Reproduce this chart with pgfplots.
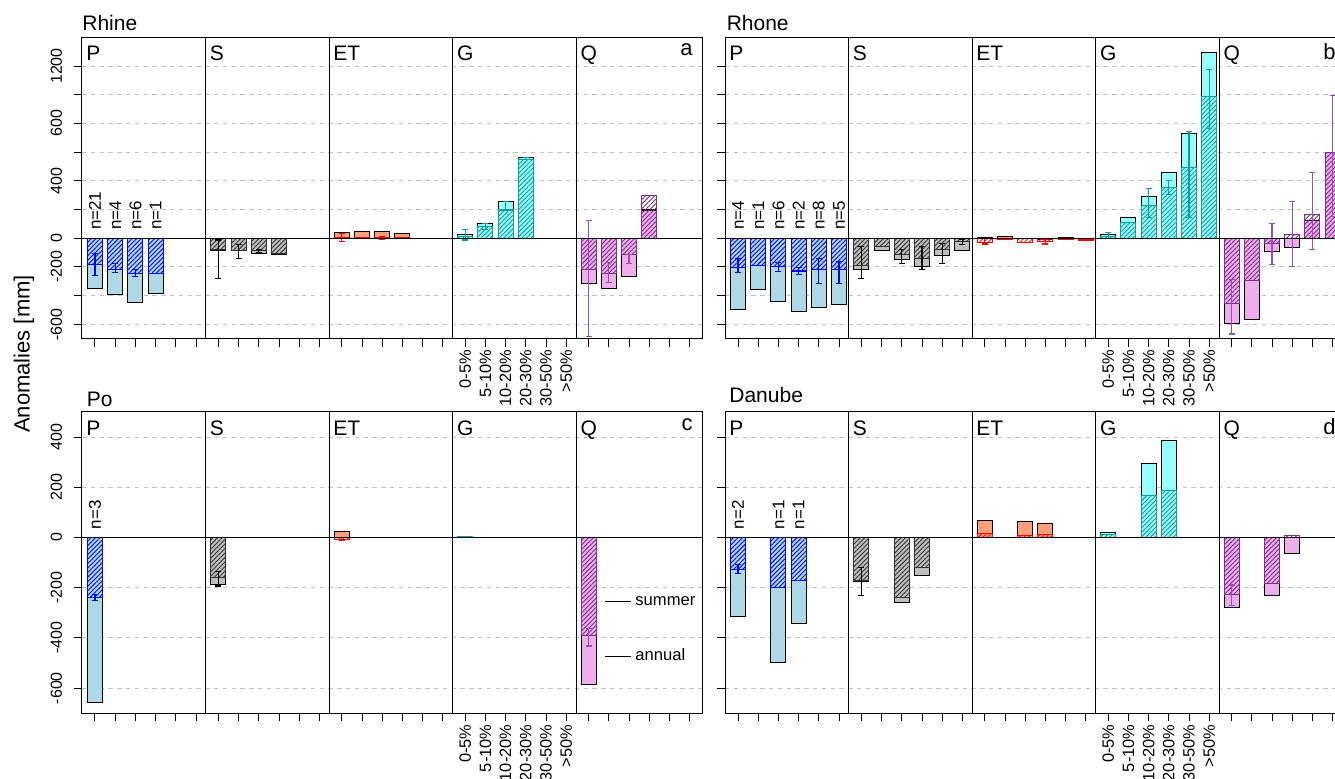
\documentclass[border=0pt]{standalone}
\usepackage{fontspec}
\setmainfont{Liberation Sans}
\usepackage{pgfplots}
\pgfplotsset{compat=1.18}
\usetikzlibrary{patterns.meta}

\definecolor{pfill}{HTML}{ADD8E6}
\definecolor{pline}{HTML}{0000FF}
\definecolor{sfill}{HTML}{BEBEBE}
\definecolor{sline}{HTML}{333333}
\definecolor{efill}{HTML}{FFA07A}
\definecolor{eline}{HTML}{FF0000}
\definecolor{gfill}{HTML}{97FFFF}
\definecolor{gline}{HTML}{119C9C}
\definecolor{qfill}{HTML}{EEAEEE}
\definecolor{qline}{HTML}{7D2F8F}
\definecolor{qerr}{HTML}{9650B4}

\pgfplotsset{
  panel/.style={
    scale only axis, width=310pt, height=150.7pt, anchor=south west,
    xmin=0, xmax=620, clip=false,
    axis line style={line width=0.5pt},
    tick align=outside, major tick length=4pt,
    tick style={black, line width=0.5pt},
    xtick pos=left, ytick pos=left,
    xtick={13,33.2,53.4,73.6,93.8,114,136.4,156.6,176.8,197,217.2,237.4,
           259.8,280,300.2,320.4,340.6,360.8,383.2,403.4,423.6,443.8,464,484.2,
           506.6,526.8,547,567.2,587.4,607.6},
    xticklabels={{},{},{},{},{},{},{},{},{},{},{},{},{},{},{},{},{},{},
                 0-5\%,5-10\%,10-20\%,20-30\%,30-50\%,>50\%,{},{},{},{},{},{}},
    xticklabel style={rotate=90, anchor=east, inner sep=1.5pt, font=\fontsize{8.2}{10}\selectfont},
    yticklabel style={rotate=90, anchor=south, font=\fontsize{8}{10}\selectfont},
    yticklabel shift=2.5pt,
    /pgf/number format/assume math mode=true,
    ymajorgrids, grid style={dash pattern=on 2.2pt off 2.2pt, black!25, line width=0.5pt},
  },
  ann/.style={ybar, bar width=15, bar shift=0pt, draw=black, line width=0.55pt, fill=#1, forget plot},
  sum/.style={ybar, bar width=15, bar shift=0pt, draw=#1, line width=0.55pt,
    pattern={Lines[angle=45, distance=1.6pt, line width=0.45pt]}, pattern color=#1, forget plot},
  eb/.style={forget plot, draw=none, mark=none, error bars/.cd, y dir=both, y explicit,
    error bar style={draw=#1, line width=0.55pt, solid},
    error mark options={rotate=90, draw=#1, mark size=1.5pt, line width=0.55pt}},
}

\newcommand{\seclab}[2]{\node[anchor=north west, inner sep=0pt, xshift=2pt, yshift=-4.2pt,
  font=\fontsize{10.5}{12}\selectfont] at ({axis cs:#1,0}|-{rel axis cs:0,1}) {#2};}
\newcommand{\panelframe}[1]{%
  \draw[line width=0.5pt] ({axis cs:123.4,0}|-{rel axis cs:0,0}) -- ({axis cs:123.4,0}|-{rel axis cs:0,1});
  \draw[line width=0.5pt] ({axis cs:247,0}|-{rel axis cs:0,0}) -- ({axis cs:247,0}|-{rel axis cs:0,1});
  \draw[line width=0.5pt] ({axis cs:370.6,0}|-{rel axis cs:0,0}) -- ({axis cs:370.6,0}|-{rel axis cs:0,1});
  \draw[line width=0.5pt] ({axis cs:494.2,0}|-{rel axis cs:0,0}) -- ({axis cs:494.2,0}|-{rel axis cs:0,1});
  \draw[line width=0.5pt] ({rel axis cs:0,0}|-{axis cs:0,0}) -- ({rel axis cs:1,0}|-{axis cs:0,0});
  \seclab{0}{P}\seclab{123.4}{S}\seclab{247}{ET}\seclab{370.6}{G}\seclab{494.2}{Q}
  \node[anchor=north east, inner sep=0pt, xshift=-4.5pt, yshift=-3pt,
    font=\fontsize{11}{13}\selectfont] at (rel axis cs:1,1) {#1};}
\newcommand{\nlab}[2]{\node[rotate=90, anchor=west, inner sep=0pt,
  font=\fontsize{8.5}{10}\selectfont] at ([yshift=4pt]axis cs:#1,0) {n=#2};}
\newcommand{\ptitle}[3]{\node[anchor=base west, inner sep=0pt, xshift=#2, yshift=#3,
  font=\fontsize{10.5}{12}\selectfont] at (rel axis cs:0,1) {#1};}

\begin{document}
\begin{tikzpicture}

% ---------------- Rhine ----------------
\begin{axis}[panel, at={(41pt,219.65pt)}, ymin=-700, ymax=1400,
  ytick={-600,-400,...,1200}, yticklabels={-600,{},-200,0,{},400,{},600,{},1200}]
\addplot[ann=pfill] coordinates {(13,-351) (33.2,-393) (53.4,-448) (73.6,-388)};
\addplot[sum=pline] coordinates {(13,-186) (33.2,-216) (53.4,-244) (73.6,-244)};
\addplot[eb=pline] coordinates {(13,-183.5) +- (0,74.5) (33.2,-206.5) +- (0,32.5) (53.4,-241.5) +- (0,25.5)};
\addplot[ann=sfill] coordinates {(136.4,-83) (156.6,-88) (176.8,-105) (197,-116)};
\addplot[sum=sline] coordinates {(136.4,-81) (156.6,-86) (176.8,-88) (197,-105)};
\addplot[eb=black] coordinates {(136.4,-145.5) +- (0,133.5) (156.6,-92.5) +- (0,46.5) (176.8,-90.5) +- (0,9.5)};
\addplot[ann=efill] coordinates {(259.8,42) (280,46) (300.2,46) (320.4,32)};
\addplot[sum=eline] coordinates {(259.8,8) (280,8) (300.2,8) (320.4,5)};
\addplot[eb=eline] coordinates {(259.8,6) +- (0,29) (300.2,3.5) +- (0,8.5)};
\addplot[ann=gfill] coordinates {(383.2,23) (403.4,105) (423.6,253) (443.8,560)};
\addplot[sum=gline] coordinates {(383.2,12) (403.4,81) (423.6,197) (443.8,546)};
\addplot[eb=gline] coordinates {(383.2,23) +- (0,35) (403.4,81) +- (0,19) (423.6,227.5) +- (0,30.5) (443.8,554) +- (0,6)};
\addplot[ann=qfill] coordinates {(506.6,-314) (526.8,-351) (547,-265) (567.2,197)};
\addplot[sum=qline] coordinates {(506.6,-216) (526.8,-244) (547,-111) (567.2,295)};
\addplot[eb=qerr] coordinates {(506.6,-280) +- (0,405) (526.8,-239.5) +- (0,69.5) (547,-145) +- (0,29)};
\panelframe{a}
\nlab{13}{21}\nlab{33.2}{4}\nlab{53.4}{6}\nlab{73.6}{1}
\ptitle{Rhine}{0pt}{3.3pt}
\end{axis}

% ---------------- Rhone ----------------
\begin{axis}[panel, at={(362.5pt,219.65pt)}, ymin=-700, ymax=1400,
  ytick={-600,-400,...,1200}, yticklabels={}]
\addplot[ann=pfill] coordinates {(13,-497) (33.2,-355) (53.4,-439) (73.6,-513) (93.8,-481) (114,-460)};
\addplot[sum=pline] coordinates {(13,-202) (33.2,-193) (53.4,-197) (73.6,-228) (93.8,-216) (114,-216)};
\addplot[eb=pline] coordinates {(13,-188) +- (0,49) (53.4,-198.5) +- (0,31.5) (73.6,-227.5) +- (0,23.5) (93.8,-230) +- (0,88) (114,-240.5) +- (0,77.5)};
\addplot[ann=sfill] coordinates {(136.4,-216) (156.6,-86) (176.8,-146) (197,-197) (217.2,-123) (237.4,-86)};
\addplot[sum=sline] coordinates {(136.4,-190) (156.6,-58) (176.8,-116) (197,-139) (217.2,-77) (237.4,-23)};
\addplot[eb=black] coordinates {(136.4,-168.5) +- (0,110.5) (176.8,-127.5) +- (0,46.5) (197,-137) +- (0,79) (217.2,-104.5) +- (0,69.5) (237.4,-26.5) +- (0,19.5)};
\addplot[ann=efill] coordinates {(259.8,7) (280,14) (300.2,-5) (320.4,-10) (340.6,7) (360.8,-3)};
\addplot[sum=eline] coordinates {(259.8,-30) (280,-10) (300.2,-28) (320.4,-23) (340.6,-9) (360.8,-12)};
\addplot[eb=eline] coordinates {(259.8,-20) +- (0,20) (320.4,-25) +- (0,15)};
\addplot[ann=gfill] coordinates {(383.2,28) (403.4,144) (423.6,288) (443.8,460) (464,732) (484.2,1296)};
\addplot[sum=gline] coordinates {(383.2,12) (403.4,111) (423.6,225) (443.8,355) (464,490) (484.2,990)};
\addplot[eb=gline] coordinates {(383.2,21) +- (0,21) (423.6,244) +- (0,100) (443.8,355.5) +- (0,48.5) (464,443.5) +- (0,299.5) (484.2,972.5) +- (0,205.5)};
\addplot[ann=qfill] coordinates {(506.6,-597) (526.8,-569) (547,-93) (567.2,-63) (587.4,123) (607.6,599)};
\addplot[sum=qline] coordinates {(506.6,-453) (526.8,-295) (547,-35) (567.2,28) (587.4,163) (607.6,599)};
\addplot[eb=qerr] coordinates {(506.6,-476.5) +- (0,190.5) (547,-40.5) +- (0,145.5) (567.2,27.5) +- (0,227.5) (587.4,190.5) +- (0,267.5) (607.6,572.5) +- (0,421.5)};
\panelframe{b}
\nlab{13}{4}\nlab{33.2}{1}\nlab{53.4}{6}\nlab{73.6}{2}\nlab{93.8}{8}\nlab{114}{5}
\ptitle{Rhone}{0.7pt}{3.3pt}
\end{axis}

% ---------------- Po ----------------
\begin{axis}[panel, at={(41pt,32.35pt)}, ymin=-700, ymax=500,
  ytick={-600,-400,...,400}, yticklabels={-600,-400,-200,0,200,400}]
\addplot[ann=pfill] coordinates {(13,-656)};
\addplot[sum=pline] coordinates {(13,-239)};
\addplot[eb=pline] coordinates {(13,-239.5) +- (0,11.5)};
\addplot[ann=sfill] coordinates {(136.4,-187)};
\addplot[sum=sline] coordinates {(136.4,-158)};
\addplot[eb=black] coordinates {(136.4,-164) +- (0,29)};
\addplot[ann=efill] coordinates {(259.8,24)};
\addplot[sum=eline] coordinates {(259.8,-7)};
\addplot[eb=eline] coordinates {(259.8,-5) +- (0,5)};
\addplot[ann=gfill] coordinates {(383.2,2)};
\addplot[sum=gline] coordinates {(383.2,2)};
\addplot[ann=qfill] coordinates {(506.6,-584)};
\addplot[sum=qline] coordinates {(506.6,-392)};
\addplot[eb=qerr] coordinates {(506.6,-397.5) +- (0,34.5)};
\panelframe{c}
\nlab{13}{3}
\ptitle{Po}{2.2pt}{2.8pt}
\draw[line width=0.55pt] (axis cs:523,-255) -- (axis cs:549,-255);
\draw[line width=0.55pt] (axis cs:523,-474) -- (axis cs:549,-474);
\node[anchor=base west, inner sep=0pt, font=\fontsize{8.3}{10}\selectfont] at ([yshift=-2.15pt]axis cs:553,-255) {summer};
\node[anchor=base west, inner sep=0pt, font=\fontsize{8.3}{10}\selectfont] at ([yshift=-2.15pt]axis cs:553,-474) {annual};
\end{axis}

% ---------------- Danube ----------------
\begin{axis}[panel, at={(362.5pt,32.35pt)}, ymin=-700, ymax=500,
  ytick={-600,-400,...,400}, yticklabels={}]
\addplot[ann=pfill] coordinates {(13,-315) (53.4,-497) (73.6,-343)};
\addplot[sum=pline] coordinates {(13,-126) (53.4,-198) (73.6,-171)};
\addplot[eb=pline] coordinates {(13,-125.5) +- (0,16.5)};
\addplot[ann=sfill] coordinates {(136.4,-174) (176.8,-258) (197,-150)};
\addplot[sum=sline] coordinates {(136.4,-172) (176.8,-238) (197,-118)};
\addplot[eb=black] coordinates {(136.4,-175) +- (0,57)};
\addplot[ann=efill] coordinates {(259.8,68) (300.2,64) (320.4,54)};
\addplot[sum=eline] coordinates {(259.8,17) (300.2,9) (320.4,13)};
\addplot[ann=gfill] coordinates {(383.2,20) (423.6,296) (443.8,386)};
\addplot[sum=gline] coordinates {(383.2,13) (423.6,167) (443.8,186)};
\addplot[ann=qfill] coordinates {(506.6,-279) (547,-230) (567.2,-62)};
\addplot[sum=qline] coordinates {(506.6,-228) (547,-182) (567.2,7)};
\addplot[eb=qerr] coordinates {(506.6,-230) +- (0,41)};
\panelframe{d}
\nlab{13}{2}\nlab{53.4}{1}\nlab{73.6}{1}
\ptitle{Danube}{2pt}{4.5pt}
\end{axis}

\node[rotate=90, font=\fontsize{11}{13}\selectfont] at (12pt,212pt) {Anomalies [mm]};

\pgfresetboundingbox
\path (0,0) rectangle (667.5pt,389pt);
\end{tikzpicture}
\end{document}
